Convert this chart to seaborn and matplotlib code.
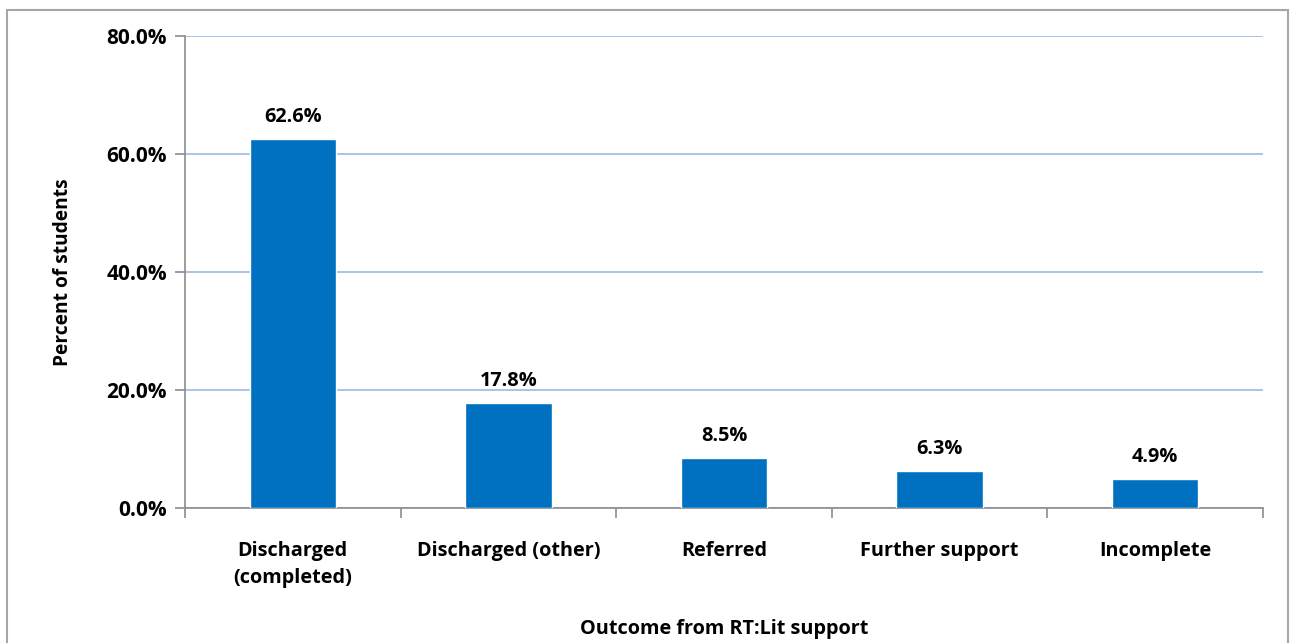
import matplotlib
matplotlib.use("Agg")
import matplotlib.pyplot as plt
import seaborn as sns
import pandas as pd
from matplotlib.patches import Rectangle
from matplotlib.ticker import FixedLocator

categories = ["Discharged\n(completed)", "Discharged (other)", "Referred", "Further support", "Incomplete"]
values = [62.6, 17.8, 8.5, 6.3, 4.9]
yticks = [0, 20, 40, 60, 80]
ytick_labels = ["0.0%", "20.0%", "40.0%", "60.0%", "80.0%"]

df = pd.DataFrame({"cat": categories, "val": values})

sns.set_style("white")
plt.rcParams["font.family"] = ["Open Sans", "DejaVu Sans"]
plt.rcParams["font.weight"] = "bold"
plt.rcParams["text.color"] = "black"
plt.rcParams["axes.labelcolor"] = "black"
plt.rcParams["xtick.labelcolor"] = "black"
plt.rcParams["ytick.labelcolor"] = "black"

FS = 14.3

fig = plt.figure(figsize=(12.93, 6.43), dpi=100)
ax = fig.add_axes([185/1293, 1 - 508/643, (1263-185)/1293, (508-36)/643])

# figure frame
fig.patches.append(Rectangle((7/1293, -0.01), (1288-7)/1293, 1 - 10/643 + 0.01,
                             transform=fig.transFigure, fill=False,
                             edgecolor="#a6a6a6", linewidth=1.5, clip_on=False))

sns.barplot(data=df, x="cat", y="val", color="#0070C0", width=0.4, ax=ax,
            saturation=1, zorder=3)

ax.set_ylim(0, 80)
ax.set_xlim(-0.5, len(categories) - 0.5)
ax.set_yticks(yticks)
ax.set_yticklabels(ytick_labels, fontsize=FS + 0.7, fontweight="bold")
ax.set_xticks(range(len(categories)))
ax.set_xticklabels(categories, fontsize=FS, fontweight="bold", linespacing=1.45)
ax.tick_params(axis="x", length=0, pad=24)
ax.tick_params(axis="y", length=7, width=1.2, color="#8c8c8c", pad=6, direction="out", left=True)
ax.xaxis.set_minor_locator(FixedLocator([i - 0.5 for i in range(len(categories) + 1)]))
ax.tick_params(axis="x", which="minor", length=7, width=1.2, color="#8c8c8c", direction="out", bottom=True)

ax.yaxis.grid(True, color="#a3bfe8", linewidth=1.3, zorder=0)
ax.set_axisbelow(True)
for s in ["top", "right"]:
    ax.spines[s].set_visible(False)
for s in ["left", "bottom"]:
    ax.spines[s].set_color("#8c8c8c")
    ax.spines[s].set_linewidth(1.2)

for i, v in enumerate(values):
    ax.text(i, v + 2.0, f"{v:.1f}%", ha="center", va="bottom", fontsize=FS, fontweight="bold")

ax.set_ylabel("Percent of students", fontsize=FS - 0.5, fontweight="bold", labelpad=24)
ax.set_xlabel("Outcome from RT:Lit support", fontsize=FS, fontweight="bold", labelpad=22)

fig.savefig("out.png", dpi=100)
